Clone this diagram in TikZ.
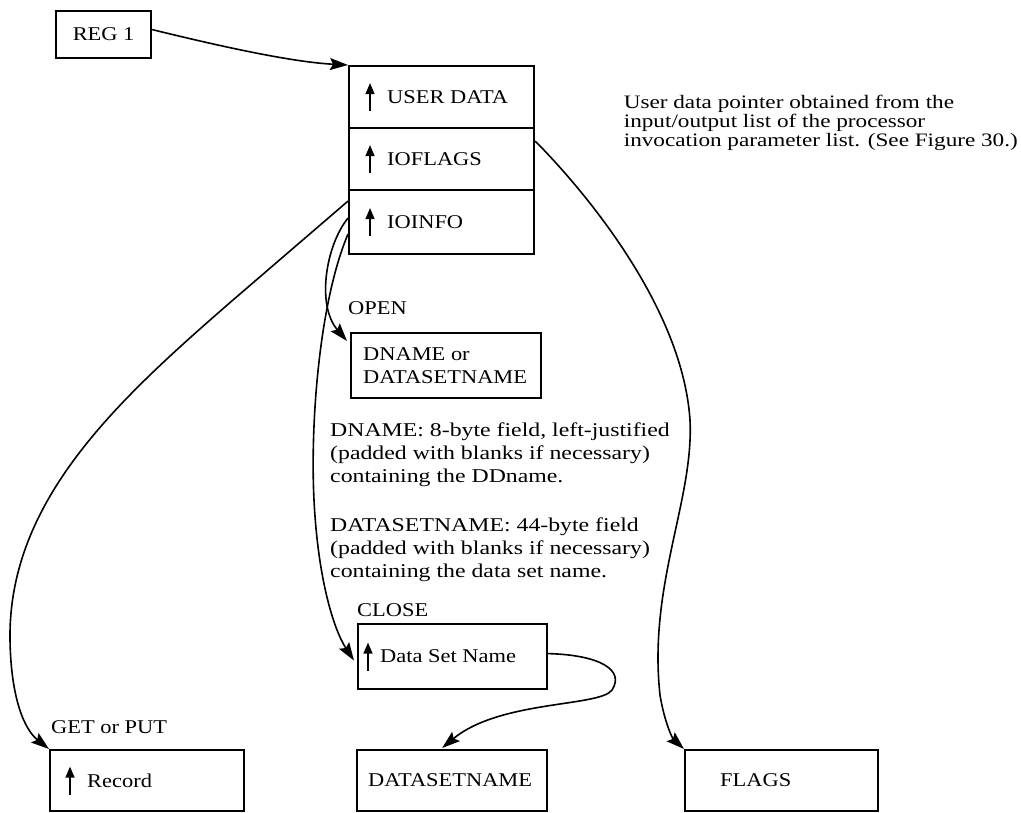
\documentclass[tikz,border=0pt]{standalone}
\usepackage{fontspec}
\setmainfont{Liberation Serif}[FakeStretch=1.15]
\newfontfamily\descfont{Liberation Serif}[FakeStretch=1.22]
\usetikzlibrary{arrows.meta,calc}

\begin{document}
\begin{tikzpicture}[x=1pt,y=-1pt,
  box/.style={draw, line width=2.2pt, inner sep=0pt, anchor=north west},
  txt/.style={inner sep=0pt, font=\fontsize{19.5}{23}\selectfont},
  lbl/.style={txt, anchor=west},
  desc/.style={inner sep=0pt, anchor=west, align=left, font=\descfont\fontsize{19.5}{23}\selectfont},
  note/.style={inner sep=0pt, anchor=east, align=left, font=\descfont\fontsize{19}{19}\selectfont},
  link/.style={line width=1.6pt, -{Stealth[length=18pt,width=12pt,inset=3pt]}},
  ptr/.style={line width=1.3pt, -{Triangle[length=11pt,width=9pt]}}]
\useasboundingbox (0,0) rectangle (1021,813);

% register box
\node[box, txt, minimum width=95pt, minimum height=47pt] (reg) at (55,10) {REG 1};

% three-word pointer block
\node[box, minimum width=185pt, minimum height=62pt] (ud)  at (348,65)  {};
\node[box, minimum width=185pt, minimum height=62pt] (iof) at (348,127) {};
\node[box, minimum width=185pt, minimum height=64pt] (ioi) at (348,189) {};
\node[lbl] (udt)  at ($(ud.west)+(39,0)$)  {USER DATA};
\node[lbl] (ioft) at ($(iof.west)+(39,0)$) {IOFLAGS};
\node[lbl] (ioit) at ($(ioi.west)+(39,0)$) {IOINFO};
\draw[ptr] ($(ud.west)+(22,14)$)  -- ++(0,-28);
\draw[ptr] ($(iof.west)+(22,14)$) -- ++(0,-28);
\draw[ptr] ($(ioi.west)+(22,14)$) -- ++(0,-28);

% explanatory note
\node[note] (usernote) at (1018,123) {User data pointer obtained from the\\input/output list of the processor\\invocation parameter list. (See Figure 30.)};

% OPEN target
\node[lbl] (open) at (348,308) {OPEN};
\node[box, minimum width=190pt, minimum height=65pt] (dn) at (350,332) {};
\node[lbl, align=left] (dnt) at ($(dn.west)+(13,0)$) {DNAME or\\DATASETNAME};

\node[desc] (desc1) at (330,455) {DNAME: 8-byte field, left-justified\\(padded with blanks if necessary)\\containing the DDname.};
\node[desc] (desc2) at (330,550) {DATASETNAME: 44-byte field\\(padded with blanks if necessary)\\containing the data set name.};

% CLOSE target
\node[lbl] (close) at (357,610) {CLOSE};
\node[box, minimum width=189pt, minimum height=65pt] (dsn) at (357,623) {};
\node[lbl] (dsnt) at ($(dsn.west)+(23,0)$) {Data Set Name};
\draw[ptr] ($(dsn.west)+(11,14)$) -- ++(0,-28);

% bottom row
\node[lbl] (getput) at (51,727) {GET or PUT};
\node[box, minimum width=194pt, minimum height=61pt] (rec) at (49,749) {};
\node[lbl] (rect) at ($(rec.west)+(38,0)$) {Record};
\draw[ptr] ($(rec.west)+(21,14)$) -- ++(0,-28);

\node[box, minimum width=190pt, minimum height=61pt] (dsb) at (356,749) {};
\node[lbl] (dsbt) at ($(dsb.west)+(12,0)$) {DATASETNAME};

\node[box, minimum width=193pt, minimum height=61pt] (flags) at (684,749) {};
\node[lbl] (flagst) at ($(flags.west)+(36,0)$) {FLAGS};

% connectors
\draw[link] ($(reg.east)+(0,-5)$) .. controls (215,45) and (290,62) .. (ud.north west);
\draw[link, -] ($(ioi.west)+(0,-21)$) -- (233,300);
\draw[link] (233,300) .. controls (118,400) and (8,500) .. (10,640)
            .. controls (11,700) and (25,730) .. (rec.north west);
\draw[link] ($(ioi.west)+(0,-4)$) .. controls (326,245) and (316,305) .. ($(dn.north west)+(-3,9)$);
\draw[link] ($(ioi.west)+(0,12)$) .. controls (320,300) and (310,420) .. (314,500)
            .. controls (318,580) and (334,630) .. ($(dsn.west)+(-3,4)$);
\draw[link] ($(dsn.east)+(0,-3)$) .. controls (600,655) and (625,670) .. (612,690)
            .. controls (600,707) and (500,700) .. ($(dsb.north)+(-10,-1)$);
\draw[link] ($(iof.east)+(0,-18)$) .. controls (572,178) and (682,300) .. (690,420)
            .. controls (694,500) and (648,585) .. (660,695)
            .. controls (664,720) and (672,738) .. (flags.north west);
\end{tikzpicture}
\end{document}
